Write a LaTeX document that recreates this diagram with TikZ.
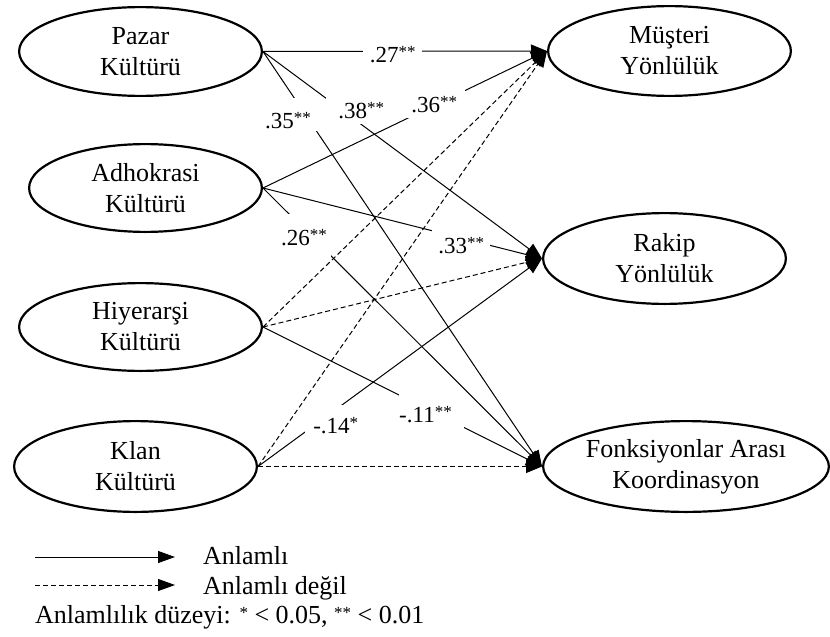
\documentclass[tikz,border=0pt]{standalone}
\usepackage{fontspec}
\setmainfont{Liberation Serif}
\usetikzlibrary{shapes.geometric,arrows.meta}
\newcommand{\sigst}[1]{\raisebox{4.5pt}{\fontsize{17}{17}\selectfont #1}}
\begin{document}
\begin{tikzpicture}[x=1pt,y=-1pt,
  ell/.style={ellipse, draw, line width=2.2pt, inner sep=0pt, align=center, font=\fontsize{26}{31}\selectfont},
  conn/.style={line width=1pt, -{Triangle[length=16pt,width=13pt]}},
  ns/.style={conn, dash pattern=on 5pt off 3pt},
  lbl/.style={fill=white, inner sep=0pt, anchor=base west, font=\fontsize{23}{26}\selectfont},
  legtxt/.style={inner sep=0pt, anchor=base west, font=\fontsize{26}{31}\selectfont},
]
\useasboundingbox (0,0) rectangle (830,637);

\node[ell, minimum width=242.8pt, minimum height=88.8pt] (pazar) at (140.5,51.5) {Pazar\\Kültürü};
\node[ell, minimum width=232.8pt, minimum height=87.8pt] (adho) at (145.5,188) {Adhokrasi\\Kültürü};
\node[ell, minimum width=242.8pt, minimum height=87.8pt] (hiy) at (140.5,327) {Hiyerarşi\\Kültürü};
\node[ell, minimum width=242.8pt, minimum height=90.8pt] (klan) at (135.5,466.5) {Klan\\Kültürü};
\node[ell, minimum width=242.8pt, minimum height=89.8pt] (mus) at (669.5,51) {Müşteri\\Yönlülük};
\node[ell, minimum width=242.8pt, minimum height=90.8pt] (rakip) at (664.5,258.5) {Rakip\\Yönlülük};
\node[ell, minimum width=285.8pt, minimum height=90.8pt] (fonk) at (686,466.5) {Fonksiyonlar Arası\\Koordinasyon};

\draw[conn] (pazar.east) -- (mus.west);
\draw[conn] (pazar.east) -- (rakip.west);
\draw[conn] (pazar.east) -- (fonk.west);
\draw[conn] (adho.east) -- (mus.west);
\draw[conn] (adho.east) -- (rakip.west);
\draw[conn] (adho.east) -- (fonk.west);
\draw[ns] (hiy.east) -- (mus.west);
\draw[ns] (hiy.east) -- (rakip.west);
\draw[conn] (hiy.east) -- (fonk.west);
\draw[ns] (klan.east) -- (mus.west);
\draw[conn] (klan.east) -- (rakip.west);
\draw[ns] (klan.east) -- (fonk.west);

\node[lbl, text width=59pt, align=center, text height=22pt, text depth=4pt] (l27) at (363,62) {.27\sigst{**}};
\node[lbl, text width=58pt, align=right, text height=22pt, text depth=6pt] (l38) at (326,118) {.38\sigst{**}};
\node[lbl, text width=54pt, align=left, text height=30pt, text depth=3pt] (l35) at (265,128) {.35\sigst{**}};
\node[lbl, text width=62pt, align=center, text height=24pt, text depth=6pt] (l36) at (403,112) {.36\sigst{**}};
\node[lbl, text width=58pt, align=center, text height=25pt, text depth=3pt] (l33) at (432,253) {.33\sigst{**}};
\node[lbl, text width=50pt, align=left, text height=31pt, text depth=13pt] (l26) at (281,245) {.26\sigst{**}};
\node[lbl, text width=65pt, align=left, text height=30pt, text depth=6pt] (l11) at (399,422) {-.11\sigst{**}};
\node[lbl, text width=53pt, align=right, text height=28pt, text depth=4pt] (l14) at (305,433) {-.14\sigst{*}};

\coordinate (s1) at (35,557);
\coordinate (e1) at (175,557);
\draw[line width=1pt, -{Triangle[length=17pt,width=12pt]}] (s1) -- (e1);
\coordinate (s2) at (35,585);
\coordinate (e2) at (175,585);
\draw[line width=1pt, dash pattern=on 5pt off 3pt, -{Triangle[length=17pt,width=12pt]}] (s2) -- (e2);
\node[legtxt] (t1) at (203,564) {Anlamlı};
\node[legtxt] (t2) at (203,594) {Anlamlı değil};
\node[legtxt] (t3) at (35,623) {Anlamlılık düzeyi: \sigst{*} < 0.05, \sigst{**} < 0.01};
\end{tikzpicture}
\end{document}
